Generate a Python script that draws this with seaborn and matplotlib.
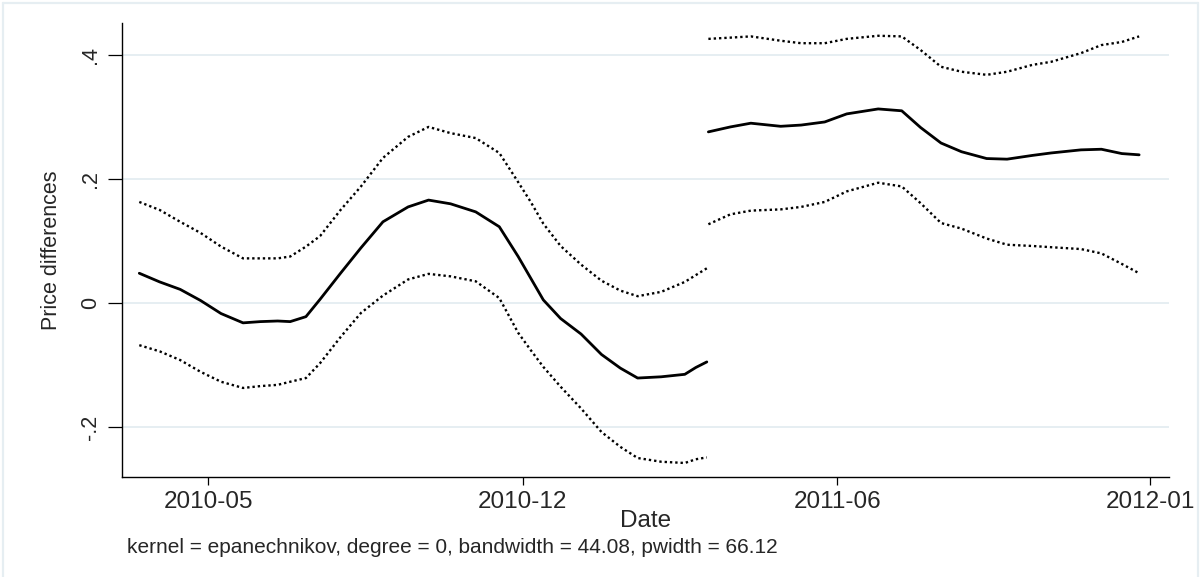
import matplotlib
matplotlib.use("Agg")
import matplotlib.pyplot as plt
from matplotlib.lines import Line2D
import numpy as np
import pandas as pd
import seaborn as sns

# Local-polynomial smooth of price differences with 95% CI, two periods
seg1_dates = ["2010-04-04", "2010-04-17", "2010-04-30", "2010-05-13", "2010-05-26",
              "2010-06-09", "2010-06-20", "2010-07-01", "2010-07-09", "2010-07-19",
              "2010-07-28", "2010-08-10", "2010-08-23", "2010-09-06", "2010-09-22",
              "2010-10-05", "2010-10-19", "2010-11-04", "2010-11-19", "2010-12-01",
              "2010-12-09", "2010-12-17", "2010-12-28", "2011-01-10", "2011-01-23",
              "2011-02-04", "2011-02-15", "2011-03-02", "2011-03-17", "2011-03-24",
              "2011-03-31"]
seg1_mean = [0.048, 0.034, 0.022, 0.004, -0.017, -0.032, -0.030, -0.029, -0.030, -0.022,
             0.006, 0.048, 0.089, 0.131, 0.155, 0.166, 0.160, 0.147, 0.123, 0.075,
             0.040, 0.005, -0.025, -0.050, -0.083, -0.105, -0.121, -0.119, -0.115, -0.104,
             -0.095]
seg1_upper = [0.163, 0.150, 0.131, 0.113, 0.091, 0.072, 0.072, 0.072, 0.075, 0.091,
              0.108, 0.150, 0.188, 0.234, 0.268, 0.284, 0.274, 0.266, 0.242, 0.195,
              0.163, 0.128, 0.092, 0.062, 0.036, 0.020, 0.011, 0.018, 0.034, 0.045,
              0.056]
seg1_lower = [-0.068, -0.078, -0.092, -0.111, -0.127, -0.137, -0.134, -0.132, -0.127, -0.121,
              -0.097, -0.055, -0.016, 0.012, 0.038, 0.047, 0.043, 0.035, 0.008, -0.048,
              -0.076, -0.103, -0.135, -0.170, -0.208, -0.232, -0.250, -0.256, -0.258, -0.252,
              -0.249]

seg2_dates = ["2011-04-01", "2011-04-15", "2011-04-28", "2011-05-17", "2011-05-30",
              "2011-06-14", "2011-06-28", "2011-07-18", "2011-08-02", "2011-08-14",
              "2011-08-27", "2011-09-09", "2011-09-25", "2011-10-08", "2011-10-24",
              "2011-11-05", "2011-11-24", "2011-12-07", "2011-12-20", "2011-12-31"]
seg2_mean = [0.276, 0.284, 0.290, 0.285, 0.287, 0.292, 0.305, 0.313, 0.310, 0.283,
             0.258, 0.244, 0.233, 0.232, 0.238, 0.242, 0.247, 0.248, 0.241, 0.239]
seg2_upper = [0.426, 0.428, 0.430, 0.423, 0.419, 0.419, 0.426, 0.431, 0.430, 0.408,
              0.381, 0.373, 0.368, 0.373, 0.384, 0.389, 0.403, 0.416, 0.421, 0.430]
seg2_lower = [0.127, 0.143, 0.149, 0.151, 0.155, 0.163, 0.180, 0.194, 0.188, 0.161,
              0.129, 0.120, 0.104, 0.094, 0.092, 0.090, 0.087, 0.080, 0.063, 0.048]

tick_dates = ["2010-05-18", "2010-12-04", "2011-06-22", "2012-01-07"]
tick_labels = ["2010-05", "2010-12", "2011-06", "2012-01"]
y_ticks = [-0.2, 0.0, 0.2, 0.4]
y_tick_labels = ["-.2", "0", ".2", ".4"]
note = "kernel = epanechnikov, degree = 0, bandwidth = 44.08, pwidth = 66.12"

sns.set_theme(style="white")
plt.rcParams["font.family"] = ["Liberation Sans", "DejaVu Sans"]

W, H = 1203, 577
fig = plt.figure(figsize=(W / 100, H / 100), dpi=100)
fig.patch.set_facecolor("white")
ax = fig.add_axes([122 / W, (H - 477) / H, (1169 - 122) / W, (477 - 23) / H])
ax.set_facecolor("white")

# outer frame (top, left, right edges)
frame_col = "#e6eef2"
fig.add_artist(Line2D([3 / W, 1198 / W], [1 - 3 / H, 1 - 3 / H], transform=fig.transFigure,
                      color=frame_col, lw=1.6))
fig.add_artist(Line2D([3 / W, 3 / W], [0, 1 - 3 / H], transform=fig.transFigure,
                      color=frame_col, lw=1.6))
fig.add_artist(Line2D([1198 / W, 1198 / W], [0, 1 - 3 / H], transform=fig.transFigure,
                      color=frame_col, lw=1.6))

dotted = (0, (1, 1.25))
for dates, mean, upper, lower in [(seg1_dates, seg1_mean, seg1_upper, seg1_lower),
                                  (seg2_dates, seg2_mean, seg2_upper, seg2_lower)]:
    df = pd.DataFrame({"date": pd.to_datetime(dates), "mean": mean,
                       "upper": upper, "lower": lower})
    sns.lineplot(data=df, x="date", y="upper", ax=ax, color="black", lw=1.7,
                 linestyle=dotted, zorder=3)
    sns.lineplot(data=df, x="date", y="lower", ax=ax, color="black", lw=1.7,
                 linestyle=dotted, zorder=3)
    sns.lineplot(data=df, x="date", y="mean", ax=ax, color="black", lw=2.0, zorder=4)

ax.set_xlim(pd.Timestamp("2010-03-24"), pd.Timestamp("2012-01-19"))
ax.set_ylim(-0.2806, 0.4516)

ax.set_xticks(pd.to_datetime(tick_dates))
ax.set_xticklabels(tick_labels, fontsize=17.5)
ax.set_yticks(y_ticks)
ax.set_yticklabels(y_tick_labels, fontsize=15.5, rotation=90, va="center")

ax.yaxis.grid(True, color="#e6eef2", lw=1.4)
ax.xaxis.grid(False)
ax.set_axisbelow(True)

for side in ["top", "right"]:
    ax.spines[side].set_visible(False)
for side in ["left", "bottom"]:
    ax.spines[side].set_color("black")
    ax.spines[side].set_linewidth(1.0)

ax.tick_params(axis="x", direction="out", length=6, width=0.9, color="black", pad=4,
               bottom=True)
ax.tick_params(axis="y", direction="out", length=10, width=0.9, color="black", pad=5,
               left=True)

ax.set_xlabel("Date", fontsize=17.5)
ax.xaxis.set_label_coords(0.5, (477 - 527) / 454)
ax.xaxis.label.set_verticalalignment("baseline")
ax.set_ylabel("Price differences", fontsize=15.5)
ax.yaxis.set_label_coords((52 - 122) / 1047, 0.5)
ax.yaxis.label.set_verticalalignment("center")

fig.text(127 / W, (H - 553) / H, note, fontsize=15, ha="left", va="baseline")

fig.savefig("out.png", dpi=100)
